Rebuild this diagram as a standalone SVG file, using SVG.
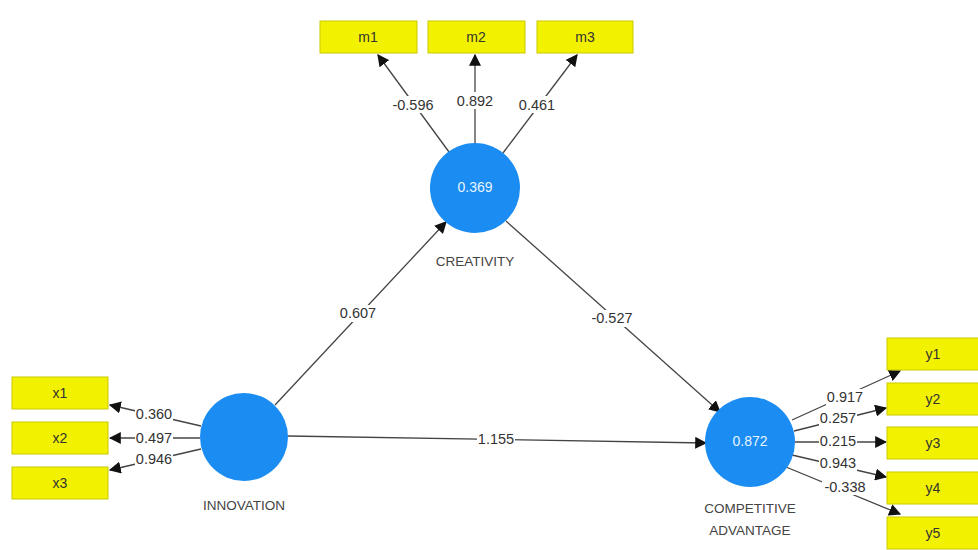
<svg xmlns="http://www.w3.org/2000/svg" width="978" height="550" viewBox="0 0 978 550">
<style>
.box{fill:#f2f200;stroke:#c9c900;stroke-width:1}
.lv{fill:#1b8cf2}
.bt{font-family:"Liberation Sans",Arial,sans-serif;font-size:14px;fill:#333;text-anchor:middle}
.ct{font-family:"Liberation Sans",Arial,sans-serif;font-size:14px;fill:#e8f4ff;text-anchor:middle}
.nm{font-family:"Liberation Sans",Arial,sans-serif;font-size:13.5px;fill:#444;text-anchor:middle}
.lb{font-family:"Liberation Sans",Arial,sans-serif;font-size:14.5px;fill:#333;text-anchor:middle}
.bg{fill:#fff}
.ln{stroke:#444;stroke-width:1.3;fill:none;marker-end:url(#ah)}
</style>
<defs>
<marker id="ah" viewBox="0 0 10 10" refX="9" refY="5" markerWidth="12" markerHeight="12" markerUnits="userSpaceOnUse" orient="auto">
<path d="M0,0 L10,5 L0,10 Z" fill="#111"/>
</marker>
</defs>
<rect width="978" height="550" fill="#fff"/>
<g id="connectors">
<line class="ln" x1="449" y1="152" x2="378" y2="55"/>
<line class="ln" x1="475" y1="144" x2="475" y2="55"/>
<line class="ln" x1="503" y1="153" x2="577" y2="55"/>
<line class="ln" x1="201" y1="426" x2="110" y2="405"/>
<line class="ln" x1="200" y1="438" x2="110" y2="438"/>
<line class="ln" x1="201" y1="449" x2="110" y2="470"/>
<line class="ln" x1="275" y1="405" x2="446" y2="222"/>
<line class="ln" x1="506" y1="221" x2="720" y2="412"/>
<line class="ln" x1="288" y1="436" x2="706" y2="443"/>
<line class="ln" x1="792" y1="420" x2="900" y2="371"/>
<line class="ln" x1="794" y1="431" x2="886" y2="408"/>
<line class="ln" x1="795" y1="442" x2="886" y2="442"/>
<line class="ln" x1="792" y1="455" x2="886" y2="477"/>
<line class="ln" x1="786" y1="467" x2="900" y2="514"/>
<rect class="bg" x="390" y="96" width="46" height="17"/><text class="lb" x="413" y="110">-0.596</text>
<rect class="bg" x="456" y="92" width="38" height="17"/><text class="lb" x="475" y="106">0.892</text>
<rect class="bg" x="518" y="96" width="38" height="17"/><text class="lb" x="537" y="110">0.461</text>
<rect class="bg" x="135" y="406" width="38" height="16"/><text class="lb" x="154" y="419">0.360</text>
<rect class="bg" x="135" y="430" width="38" height="16"/><text class="lb" x="154" y="443">0.497</text>
<rect class="bg" x="135" y="452" width="38" height="15"/><text class="lb" x="154" y="464">0.946</text>
<rect class="bg" x="339" y="305" width="38" height="17"/><text class="lb" x="358" y="318">0.607</text>
<rect class="bg" x="589" y="310" width="46" height="17"/><text class="lb" x="612" y="323">-0.527</text>
<rect class="bg" x="477" y="431" width="38" height="17"/><text class="lb" x="496" y="444">1.155</text>
<rect class="bg" x="826" y="389" width="38" height="16"/><text class="lb" x="845" y="402">0.917</text>
<rect class="bg" x="819" y="411" width="38" height="15"/><text class="lb" x="838" y="423">0.257</text>
<rect class="bg" x="819" y="433" width="38" height="16"/><text class="lb" x="838" y="446">0.215</text>
<rect class="bg" x="819" y="456" width="38" height="15"/><text class="lb" x="838" y="468">0.943</text>
<rect class="bg" x="822" y="479" width="46" height="16"/><text class="lb" x="845" y="492">-0.338</text>
</g>
<g id="m1"><rect class="box" x="320" y="21" width="97" height="32"/><text class="bt" x="368" y="42">m1</text></g>
<g id="m2"><rect class="box" x="428" y="21" width="97" height="32"/><text class="bt" x="476" y="42">m2</text></g>
<g id="m3"><rect class="box" x="537" y="21" width="96" height="32"/><text class="bt" x="585" y="42">m3</text></g>
<g id="x1"><rect class="box" x="12" y="377" width="96" height="32"/><text class="bt" x="60" y="398">x1</text></g>
<g id="x2"><rect class="box" x="12" y="422" width="96" height="32"/><text class="bt" x="60" y="443">x2</text></g>
<g id="x3"><rect class="box" x="12" y="467" width="96" height="32"/><text class="bt" x="60" y="488">x3</text></g>
<g id="y1"><rect class="box" x="887" y="338" width="92" height="32"/><text class="bt" x="933" y="359">y1</text></g>
<g id="y2"><rect class="box" x="887" y="383" width="92" height="32"/><text class="bt" x="933" y="404">y2</text></g>
<g id="y3"><rect class="box" x="887" y="427" width="92" height="32"/><text class="bt" x="933" y="448">y3</text></g>
<g id="y4"><rect class="box" x="887" y="472" width="92" height="32"/><text class="bt" x="933" y="493">y4</text></g>
<g id="y5"><rect class="box" x="887" y="517" width="92" height="32"/><text class="bt" x="933" y="538">y5</text></g>
<g id="creativity"><circle class="lv" cx="475" cy="188" r="45"/><text class="ct" x="475" y="192">0.369</text><text class="nm" x="475" y="266">CREATIVITY</text></g>
<g id="innovation"><circle class="lv" cx="244" cy="437" r="44"/><text class="nm" x="244" y="510">INNOVATION</text></g>
<g id="competitive_advantage"><circle class="lv" cx="750" cy="442" r="45"/><text class="ct" x="750" y="446">0.872</text><text class="nm" x="750" y="513">COMPETITIVE</text><text class="nm" x="750" y="535">ADVANTAGE</text></g>
</svg>
